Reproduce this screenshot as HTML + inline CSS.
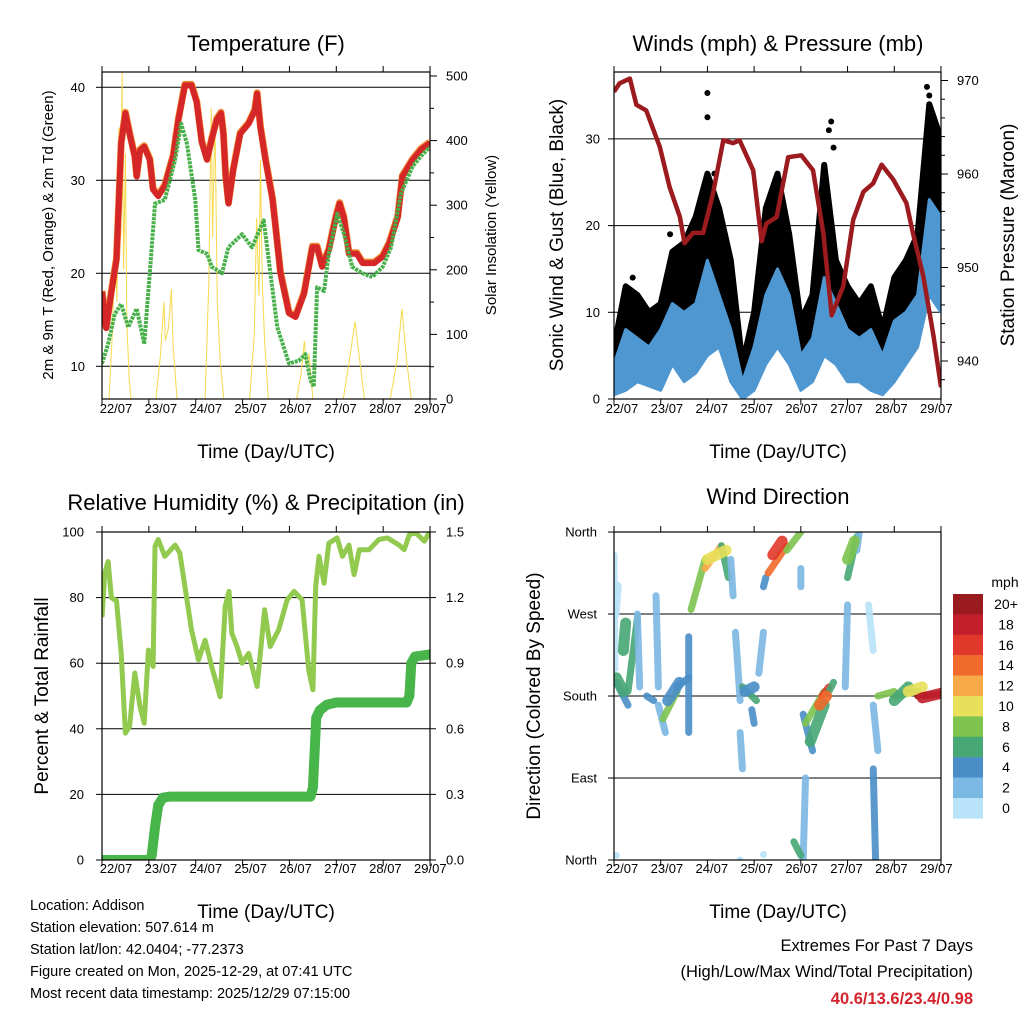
<!DOCTYPE html>
<html><head><meta charset="utf-8"><style>
html,body{margin:0;padding:0;background:#fff;}
svg{display:block;font-family:"Liberation Sans",Arial,sans-serif;}
</style></head><body>
<svg id="chart" width="1024" height="1024" viewBox="0 0 1024 1024" xmlns="http://www.w3.org/2000/svg">
<defs>
<clipPath id="c1"><rect x="102" y="72" width="328" height="327"/></clipPath>
<clipPath id="c2"><rect x="614" y="72" width="327" height="327"/></clipPath>
<clipPath id="c3"><rect x="102" y="532" width="328" height="328"/></clipPath>
<clipPath id="c4"><rect x="614" y="532" width="327" height="328"/></clipPath>
</defs>
<g font-size="22" text-anchor="middle" fill="#000">
<text x="266" y="51">Temperature (F)</text>
<text x="778" y="51">Winds (mph) &amp; Pressure (mb)</text>
<text x="266" y="510">Relative Humidity (%) &amp; Precipitation (in)</text>
<text x="778" y="504">Wind Direction</text>
</g>
<g font-size="19" text-anchor="middle" fill="#000">
<text x="266" y="458">Time (Day/UTC)</text>
<text x="778" y="458">Time (Day/UTC)</text>
<text x="266" y="918">Time (Day/UTC)</text>
<text x="778" y="918">Time (Day/UTC)</text>
<text font-size="15" transform="translate(53,235) rotate(-90)">2m &amp; 9m T (Red, Orange) &amp; 2m Td (Green)</text>
<text font-size="15" transform="translate(496,235) rotate(-90)">Solar Insolation (Yellow)</text>
<text transform="translate(563,235) rotate(-90)">Sonic Wind &amp; Gust (Blue, Black)</text>
<text transform="translate(1014,235) rotate(-90)">Station Pressure (Maroon)</text>
<text transform="translate(48,696) rotate(-90)">Percent &amp; Total Rainfall</text>
<text transform="translate(540,696) rotate(-90)">Direction (Colored By Speed)</text>
</g>
<g font-size="14.5" fill="#000">
<text x="30" y="910">Location: Addison</text>
<text x="30" y="932">Station elevation: 507.614 m</text>
<text x="30" y="954">Station lat/lon: 42.0404; -77.2373</text>
<text x="30" y="976">Figure created on Mon, 2025-12-29, at 07:41 UTC</text>
<text x="30" y="998">Most recent data timestamp: 2025/12/29 07:15:00</text>
</g>
<g font-size="16.5" text-anchor="end">
<text x="973" y="951">Extremes For Past 7 Days</text>
<text x="973" y="977">(High/Low/Max Wind/Total Precipitation)</text>
<text x="973" y="1004" fill="#d3242b" font-weight="bold">40.6/13.6/23.4/0.98</text>
</g>
</svg>
<script>
// ---- Temperature panel data ----
const tempT=[0,0.09,0.2,0.31,0.41,0.5,0.59,0.7,0.74,0.81,0.9,1.02,1.09,1.2,1.34,1.52,1.63,1.77,1.91,2.02,2.13,2.24,2.34,2.45,2.54,2.59,2.64,2.7,2.8,2.95,3.13,3.26,3.31,3.38,3.49,3.64,3.81,3.99,4.13,4.31,4.49,4.59,4.7,4.84,4.99,5.07,5.16,5.27,5.44,5.56,5.81,5.99,6.13,6.31,6.41,6.63,6.81,7];
const tempV=[18,14.1,18,21.5,34,37.2,35,32.5,30.4,33.2,33.6,32.2,29,28.3,29.4,32.6,36.5,40.2,40.2,38.4,34.1,32.2,34.4,36.5,37.2,35,30.4,27.5,31.1,35,36.1,37.5,39.3,35.7,32.2,27.9,20,15.7,15.3,17.8,22.8,22.8,20.7,22.5,26,27.5,26,22.1,22.1,21.1,21.1,21.8,23.2,26,30.4,32.2,33.3,34];
const dewT=[0,0.13,0.27,0.41,0.56,0.74,0.9,1.02,1.13,1.34,1.56,1.69,1.81,1.99,2.06,2.24,2.34,2.56,2.7,2.99,3.2,3.45,3.56,3.74,3.99,4.2,4.34,4.45,4.52,4.59,4.74,4.84,5.02,5.16,5.34,5.56,5.77,5.99,6.17,6.38,6.63,6.81,7];
const dewV=[10.3,12.4,15.6,16.7,14.2,16.2,12.4,20,27.5,27.9,32.2,36.1,34,27.9,22.5,22.1,20.7,20,22.8,24.2,22.8,25.7,21.4,14.2,10.3,10.6,11.3,8.5,7.8,18.5,18.1,22.1,26.4,24.3,20.7,20,19.6,20.7,22.8,28.6,31.5,32.6,33.6];
const solarT=[0.15,0.22,0.28,0.32,0.36,0.4,0.43,0.46,0.5,0.53,0.58,0.62,1.15,1.25,1.32,1.35,1.42,1.48,1.52,1.6,2.2,2.28,2.33,2.36,2.41,2.46,2.52,2.6,3.15,3.25,3.3,3.35,3.38,3.42,3.47,3.55,4.15,4.25,4.32,4.36,4.42,4.5,5.15,5.28,5.4,5.5,5.6,6.15,6.3,6.4,6.45,6.5,6.6];
const solarV=[0,100,250,150,420,250,505,200,380,120,30,0,0,70,150,90,110,170,80,0,0,180,450,250,440,150,60,0,0,100,280,160,370,180,90,0,0,40,90,50,70,0,0,60,120,60,0,0,60,140,100,60,0];
const tempTicks=[10,20,30,40];
const solarTicks=[0,100,200,300,400,500];
const dayLabels=["22/07","23/07","24/07","25/07","26/07","27/07","28/07","29/07"];
// ---- Wind panel data ----
const windT=[0,0.25,0.5,0.75,1,1.25,1.5,1.75,2,2.25,2.5,2.75,3,3.25,3.5,3.75,4,4.25,4.5,4.75,5,5.25,5.5,5.75,6,6.25,6.5,6.75,7];
const windHi=[4,8,7,6,8,11,10,11,16,12,8,2,6,12,15,12,5,7,14,11,8,7,8,5,9,10,12,23,21];
const windLo=[0.5,1,2,1.5,1,4,2,3,5,6,2,0,1,4,6,4,1,2,5,4,2,2,1,0.5,2,4,6,12,10];
const gustHi=[6,13,12,10,11,17,18,21,26,22,16,4,10,22,26,19,9,12,27,16,13,11,13,8,14,16,19,34,30];
const gustLo=[2,4,3,3,2,6,5,6,8,9,4,0.5,2,7,10,6,3,4,10,7,5,4,3,2,4,7,10,18,15];
const gustOutT=[0.4,1.2,2.0,2.0,2.15,4.6,4.65,4.7,6.7,6.75,6.8];
const gustOutV=[14,19,35.3,32.5,26,31,32,29,36,35,33];
const presT=[0,0.12,0.34,0.48,0.69,0.98,1.19,1.41,1.51,1.69,1.91,2.12,2.34,2.55,2.69,2.98,3.16,3.26,3.48,3.73,4.01,4.26,4.48,4.66,4.91,5.12,5.34,5.55,5.73,5.98,6.26,6.4,6.62,6.84,7];
const presV=[968.8,969.7,970.2,967.4,966.8,962.9,958.6,955.4,952.6,953.7,953.7,957.9,963.6,963.3,963.6,960.4,952.8,954.7,955.4,961.8,962,960.4,953.7,944.9,948,955.1,958.1,959,961,959.4,956.9,953.7,949.1,942.7,937.2];
const windTicks=[0,10,20,30];
const presTicks=[940,950,960,970];
// ---- Humidity panel data ----
const rhT=[0,0.06,0.13,0.2,0.31,0.41,0.5,0.59,0.7,0.81,0.9,0.99,1.09,1.13,1.2,1.34,1.56,1.66,1.77,1.91,2.06,2.2,2.34,2.52,2.63,2.71,2.77,2.88,2.99,3.13,3.31,3.47,3.59,3.77,3.95,4.1,4.27,4.41,4.5,4.56,4.63,4.74,4.84,5.02,5.13,5.27,5.38,5.49,5.7,5.91,6.09,6.34,6.45,6.56,6.7,6.88,6.99];
const rhV=[74,87.5,91,80,79,63,38.7,40.7,57,46.8,41.7,64,59,95.6,97.7,92.6,96,93.6,83.4,70.2,61,67,59,49.8,77.3,81.9,69.2,65.1,60,63,52.9,76.3,65.1,70.2,79.3,81.9,79.3,58,51.9,83.4,92.6,84.4,96.6,98.2,92.6,96,87,94.6,94.6,97.7,98.2,96,94.6,99.2,99.7,97.2,100];
const pcpT=[0,1.0,1.06,1.13,1.2,1.3,1.45,4.45,4.5,4.54,4.57,4.65,4.8,5.0,6.5,6.56,6.6,6.68,7];
const pcpV=[0,0,0.02,0.15,0.25,0.285,0.29,0.29,0.33,0.5,0.65,0.685,0.71,0.72,0.72,0.75,0.9,0.93,0.94];
const rhTicks=[0,20,40,60,80,100];
const pcpTicks=["0.0","0.3","0.6","0.9","1.2","1.5"];
// ---- Wind direction data (segments of clustered observations) ----
const dirT0=[0,0.05,0.3,0.5,0.7,0.9,0.95,1.05,1.35,1.6,1.65,1.95,2.3,2.5,2.6,2.7,2.75,2.95,3.1,3.2,3.3,3.7,4.0,4.05,4.1,4.45,4.6,4.1,3.85,4.95,5.0,5.2,5.55,5.45,5.55,5.65,6.0,6.5,0.05,3.2,2.7,0.05,0.2,0,1.15,2.0,2.8,3.4,4.2,4.4,5.0,6.0,6.3,6.6];
const dirD0=[335,195,185,270,180,290,170,155,190,245,275,320,345,330,250,140,190,165,205,300,315,340,320,160,150,180,185,90,20,190,310,340,100,280,170,180,180,180,5,6,0,200,230,270,175,330,185,335,130,170,330,175,185,178];
const dirT1=[0.02,0.3,0.5,0.55,0.85,0.95,1.1,1.35,1.6,1.6,1.95,2.3,2.45,2.55,2.7,2.75,3.05,3.0,3.2,3.25,3.7,4.0,4.0,4.25,4.5,4.6,4.7,4.05,4.0,5.0,5.2,5.25,5.6,5.55,5.65,6.0,6.5,7.0,0.05,3.2,2.7,0.2,0.25,0.05,1.4,2.4,3.0,3.6,4.5,4.55,5.15,6.3,6.6,7.0];
const dirD1=[210,170,265,190,175,190,140,185,200,140,330,345,310,290,175,100,175,150,250,310,345,360,300,120,185,190,195,0,5,280,355,360,0,230,120,185,185,182,5,6,0,185,260,300,195,340,190,350,170,180,350,190,190,183];
const dirSpd=[1,4,6,3,4,2,3,9,5,4,8,13,7,2,2,2,7,5,3,4,14,8,2,4,9,17,7,3,7,3,7,3,4,1,3,8,9,20,1,1,1,6,7,1,5,11,4,17,6,14,8,6,10,18];
const dirTicks=["North","East","South","West","North"];
const spdLabels=["20+","18","16","14","12","10","8","6","4","2","0"];
const spdColors=["#9a1b1f","#c21f2b","#e0392b","#f06a2b","#f8aa48","#e8e05a","#7ec44f","#47a775","#4a8ec8","#7cb8e4","#b9e3f8"];

const NS="http://www.w3.org/2000/svg";
const svg=document.getElementById('chart');
function mk(tag,attrs,parent){const e=document.createElementNS(NS,tag);for(const k in attrs)e.setAttribute(k,attrs[k]);(parent||svg).appendChild(e);return e;}
function pts(xs,ys,fx,fy){return xs.map((t,i)=>fx(t).toFixed(1)+','+fy(ys[i]).toFixed(1)).join(' ');}

const p1x=t=>102+t*46.86, p1y=v=>366.3-(v-10)*9.3, p1s=v=>399-v*0.646;
const p2x=t=>614+t*46.71, p2y=v=>399-v*8.67, p2p=p=>361-(p-940)*9.35;
const p3x=p1x, p3y=v=>860-v*3.28, p3p=p=>860-p*218.7;
const p4x=p2x, p4y=d=>860-d*0.911;

function frame(x,y,w,h,name){
  const r=mk('rect',{x:x,y:y,width:w,height:h,fill:'none',stroke:'#000','stroke-width':1.2});
  
  
}
function hgrid(x,w,y,name){
  const l=mk('line',{x1:x,x2:x+w,y1:y,y2:y,stroke:'#000','stroke-width':1});
  
  
}
function xaxis(fx,y0,y1,lx0,ly,name){
  for(let i=0;i<8;i++){
    const x=fx(i);
    mk('line',{x1:x,x2:x,y1:y0-6,y2:y0,stroke:'#000'});
    mk('line',{x1:x,x2:x,y1:y1,y2:y1+6,stroke:'#000'});
    const t=mk('text',{x:lx0+i*44.9,y:ly,'font-size':13,'text-anchor':'middle'});
    t.textContent=dayLabels[i];
    
    
  }
}
function ylabel(x,y,txt,anchor,name){
  const t=mk('text',{x:x,y:y+4.5,'font-size':13,'text-anchor':anchor});
  t.textContent=txt;
  
  
}

// ===== Panel 1 =====
tempTicks.forEach(v=>{hgrid(102,328,p1y(v),'temp-gridline');mk('line',{x1:96,x2:102,y1:p1y(v),y2:p1y(v),stroke:'#000'});ylabel(85,p1y(v),String(v),'end','temp-tick-label');});
for(let v=0;v<=500;v+=50){mk('line',{x1:430,x2:v%100?434:437,y1:p1s(v),y2:p1s(v),stroke:'#000'});}
solarTicks.forEach(v=>ylabel(446,p1s(v),String(v),'start','solar-tick-label'));
const g1=mk('g',{'clip-path':'url(#c1)'});
const sol=mk('polyline',{points:pts(solarT,solarV,p1x,p1s),fill:'none',stroke:'#f7d94c','stroke-width':1},g1);


const t9=mk('polyline',{points:pts(tempT,tempV,p1x,v=>p1y(v)-1),fill:'none',stroke:'#f08a30','stroke-width':7,'stroke-linejoin':'round'},g1);


const t2=mk('polyline',{points:pts(tempT,tempV,p1x,p1y),fill:'none',stroke:'#d62728','stroke-width':6,'stroke-linejoin':'round'},g1);


const dw=mk('polyline',{points:pts(dewT,dewV,p1x,p1y),fill:'none',stroke:'#48b04a','stroke-width':4,'stroke-dasharray':'3 1','stroke-linejoin':'round'},g1);


frame(102,72,328,327,'temperature-plot-frame');
xaxis(p1x,72,399,116,413,'temp-x');

// ===== Panel 2 =====
windTicks.forEach(v=>{if(v>0)hgrid(614,327,p2y(v),'wind-gridline');mk('line',{x1:608,x2:614,y1:p2y(v),y2:p2y(v),stroke:'#000'});ylabel(600,p2y(v),String(v),'end','wind-tick-label');});
for(let p=938;p<=970;p+=2){mk('line',{x1:941,x2:p%10?945:948,y1:p2p(p),y2:p2p(p),stroke:'#000'});}
presTicks.forEach(p=>ylabel(957,p2p(p),String(p),'start','pressure-tick-label'));
const g2=mk('g',{'clip-path':'url(#c2)'});
const gustPts=pts(windT,gustHi,p2x,p2y)+' '+pts(windT.slice().reverse(),gustLo.slice().reverse(),p2x,p2y);
const gb=mk('polygon',{points:gustPts,fill:'#000',stroke:'#000','stroke-width':6,'stroke-linejoin':'round'},g2);


gustOutT.forEach((t,i)=>{const c=mk('circle',{cx:p2x(t),cy:p2y(gustOutV[i]),r:3,fill:'#000'},g2);

});
const windPts=pts(windT,windHi,p2x,p2y)+' '+pts(windT.slice().reverse(),windLo.slice().reverse(),p2x,p2y);
const wb=mk('polygon',{points:windPts,fill:'#4f97d1',stroke:'#4f97d1','stroke-width':3,'stroke-linejoin':'round'},g2);


const pr=mk('polyline',{points:pts(presT,presV,p2x,p2p),fill:'none',stroke:'#9b1b1e','stroke-width':4.5,'stroke-linejoin':'round'},g2);


frame(614,72,327,327,'winds-plot-frame');
xaxis(p2x,72,399,622,413,'wind-x');

// ===== Panel 3 =====
rhTicks.forEach(v=>{if(v>0&&v<100)hgrid(102,328,p3y(v),'rh-gridline');mk('line',{x1:96,x2:102,y1:p3y(v),y2:p3y(v),stroke:'#000'});ylabel(84,p3y(v),String(v),'end','rh-tick-label');});
pcpTicks.forEach(s=>{const p=parseFloat(s);mk('line',{x1:430,x2:436,y1:p3p(p),y2:p3p(p),stroke:'#000'});ylabel(446,p3p(p),s,'start','precip-tick-label');});
const g3=mk('g',{'clip-path':'url(#c3)'});
const rh=mk('polyline',{points:pts(rhT,rhV,p3x,p3y),fill:'none',stroke:'#92c94f','stroke-width':5,'stroke-linejoin':'round'},g3);


const pc=mk('polyline',{points:pts(pcpT,pcpV,p3x,p3p),fill:'none',stroke:'#47b54a','stroke-width':10,'stroke-linejoin':'round','stroke-linecap':'round'},g3);


frame(102,532,328,328,'humidity-plot-frame');
xaxis(p3x,532,860,116,873,'rh-x');

// ===== Panel 4 =====
dirTicks.forEach((s,i)=>{const y=p4y(i*90);if(i>0&&i<4)hgrid(614,327,y,'direction-gridline');mk('line',{x1:608,x2:614,y1:y,y2:y,stroke:'#000'});ylabel(597,y,s,'end','direction-tick-label');});
const g4=mk('g',{'clip-path':'url(#c4)'});
function spdColor(s){const idx=Math.min(10,Math.floor(s/2));return spdColors[10-idx];}
dirT0.forEach((t,i)=>{
  const seg=mk('line',{x1:p4x(t),y1:p4y(dirD0[i]),x2:p4x(dirT1[i]),y2:p4y(dirD1[i]),stroke:spdColor(dirSpd[i]),'stroke-width':i>40?11:7,'stroke-linecap':'round',opacity:0.9},g4);
  
  
});
frame(614,532,327,328,'direction-plot-frame');
xaxis(p4x,532,860,622,873,'dir-x');

// colorbar
const mt=mk('text',{x:1005,y:587,'font-size':14,'text-anchor':'middle'});
mt.textContent='mph';


spdLabels.forEach((s,i)=>{
  const r=mk('rect',{x:953,y:594+i*20.4,width:30,height:20.6,fill:spdColors[i]});
  
  
  const t=mk('text',{x:1006,y:594+i*20.4+15,'font-size':14,'text-anchor':'middle'});
  t.textContent=s;
  
  
});
</script>
</body></html>
